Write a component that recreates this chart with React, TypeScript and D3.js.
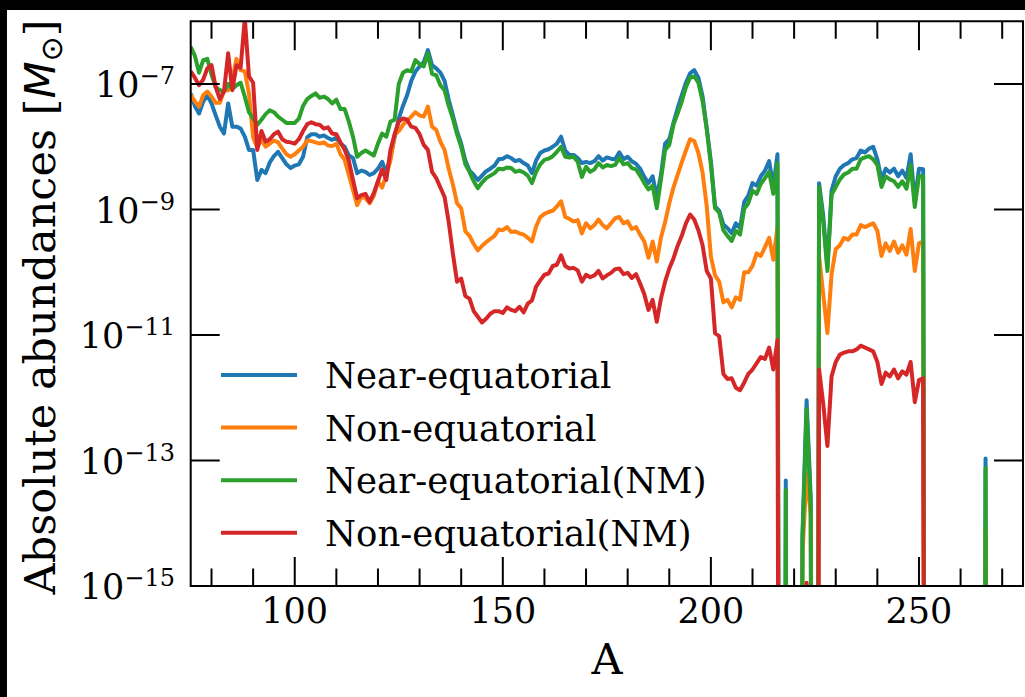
import React from 'react';
import * as d3 from 'd3';

// Mass number A, 75..275 (one point per integer A)
const massNumbers: number[] = d3.range(75, 276);

// log10 of absolute abundance [M_sun]; null = zero abundance (drops below axis)
const nearEqLog: (number | null)[] = [
  -7.15, -7.35, -7.47, -7.28, -7.18, -7.31, -7.50, -7.68, -7.79, -7.31,
  -7.68, -7.68, -7.71, -7.84, -8.05, -8.05, -8.53, -8.37, -8.42, -8.25,
  -8.15, -8.08, -8.18, -8.28, -8.34, -8.30, -8.28, -8.16, -7.85, -7.80,
  -7.80, -7.84, -7.82, -7.86, -7.89, -7.85, -7.95, -8.00, -8.14, -8.18,
  -8.42, -8.38, -8.40, -8.45, -8.42, -8.35, -8.24, -8.42, -8.16, -7.85,
  -7.55, -7.35, -7.18, -6.95, -6.80, -6.72, -6.65, -6.46, -6.70, -6.75,
  -6.82, -6.95, -7.25, -7.50, -7.75, -7.95, -8.22, -8.38, -8.45, -8.53,
  -8.46, -8.39, -8.35, -8.30, -8.20, -8.19, -8.15, -8.18, -8.23, -8.21,
  -8.26, -8.30, -8.42, -8.22, -8.10, -8.06, -8.04, -8.00, -7.95, -7.84,
  -8.06, -8.13, -8.13, -8.18, -8.26, -8.24, -8.26, -8.23, -8.15, -8.22,
  -8.17, -8.19, -8.20, -8.09, -8.20, -8.16, -8.23, -8.27, -8.35, -8.48,
  -8.58, -8.47, -8.81, -8.45, -7.95, -7.88, -7.62, -7.39, -7.18, -6.98,
  -6.83, -6.78, -6.90, -7.20, -7.70, -8.23, -8.95, -9.02, -9.24, -9.30,
  -9.38, -9.22, -9.30, -8.88, -8.78, -8.58, -8.62, -8.47, -8.38, -8.23,
  -8.64, -8.12, null, -13.32, null, null, null, -14.2, -12.04, -13.6,
  null, -8.58, -9.10, -9.92, -8.70, -8.47, -8.35, -8.29, -8.26, -8.20,
  -8.18, -8.06, -8.09, -8.03, -8.00, -8.20, -8.52, -8.35, -8.41, -8.35,
  -8.47, -8.38, -8.50, -8.12, -8.87, -8.35, -8.36, null, null, null,
  null, null, null, null, null, null, null, null, null, null,
  null, -12.97, null, null, null, null, null, null, null, null,
  null,
];

const nonEqLog: (number | null)[] = [
  -7.17, -7.28, -7.36, -7.18, -7.12, -7.20, -7.30, -7.30, -7.10, -7.10,
  -6.92, -6.60, -6.78, -6.80, -7.15, -7.85, -8.02, -7.88, -8.00, -7.95,
  -7.90, -7.93, -8.03, -8.12, -8.16, -8.12, -8.06, -8.00, -7.90, -7.91,
  -7.93, -7.95, -7.93, -7.98, -7.99, -7.95, -8.12, -8.21, -8.45, -8.69,
  -8.93, -8.80, -8.82, -8.90, -8.78, -8.55, -8.65, -8.45, -8.22, -7.81,
  -7.75, -7.65, -7.58, -7.52, -7.45, -7.50, -7.52, -7.36, -7.68, -7.73,
  -7.92, -8.05, -8.35, -8.60, -8.90, -8.98, -9.35, -9.42, -9.55, -9.65,
  -9.58, -9.52, -9.47, -9.42, -9.32, -9.33, -9.28, -9.36, -9.35, -9.38,
  -9.40, -9.45, -9.51, -9.27, -9.12, -9.07, -9.04, -9.02, -8.95, -8.87,
  -9.12, -9.15, -9.19, -9.17, -9.38, -9.22, -9.30, -9.25, -9.16, -9.25,
  -9.30, -9.22, -9.14, -9.12, -9.22, -9.19, -9.31, -9.28, -9.40, -9.51,
  -9.77, -9.51, -9.83, -9.45, -9.20, -8.90, -8.65, -8.45, -8.25, -8.06,
  -7.88, -7.91, -8.10, -8.41, -8.95, -9.75, -10.05, -10.15, -10.48, -10.44,
  -10.56, -10.40, -10.44, -10.00, -10.00, -9.90, -9.70, -9.74, -9.60, -9.45,
  -9.80, -9.28, null, null, null, null, null, -14.5, -13.2, -13.87,
  null, -9.74, -10.35, -10.97, -10.03, -9.63, -9.57, -9.45, -9.48, -9.40,
  -9.40, -9.25, -9.28, -9.25, -9.22, -9.34, -9.74, -9.54, -9.66, -9.51,
  -9.69, -9.57, -9.72, -9.31, -9.98, -9.54, -9.51, null, null, null,
  null, null, null, null, null, null, null, null, null, null,
  null, -14.1, null, null, null, null, null, null, null, null,
  null,
];

const nearEqNMLog: (number | null)[] = [
  -6.41, -6.55, -6.82, -6.62, -6.60, -6.85, -7.05, -7.10, -7.12, -7.00,
  -7.08, -7.02, -6.98, -7.20, -7.45, -7.55, -7.65, -7.57, -7.48, -7.42,
  -7.45, -7.52, -7.57, -7.62, -7.62, -7.62, -7.55, -7.35, -7.24, -7.19,
  -7.15, -7.22, -7.20, -7.24, -7.31, -7.25, -7.40, -7.40, -7.60, -7.84,
  -8.16, -8.10, -8.06, -8.10, -8.14, -7.95, -7.79, -7.84, -7.60, -7.57,
  -7.00, -6.82, -6.78, -6.80, -6.62, -6.68, -6.72, -6.51, -6.84, -6.86,
  -7.02, -7.10, -7.35, -7.55, -7.80, -8.00, -8.28, -8.40, -8.55, -8.66,
  -8.57, -8.50, -8.46, -8.42, -8.35, -8.36, -8.33, -8.34, -8.40, -8.38,
  -8.41, -8.46, -8.58, -8.40, -8.28, -8.21, -8.19, -8.15, -8.08, -8.00,
  -8.16, -8.17, -8.16, -8.24, -8.48, -8.32, -8.40, -8.36, -8.26, -8.33,
  -8.29, -8.31, -8.29, -8.18, -8.28, -8.26, -8.34, -8.36, -8.46, -8.58,
  -8.68, -8.62, -8.98, -8.52, -8.05, -7.97, -7.65, -7.47, -7.28, -7.05,
  -6.90, -6.88, -6.98, -7.27, -7.72, -8.29, -8.98, -9.05, -9.33, -9.42,
  -9.50, -9.34, -9.40, -8.99, -8.90, -8.70, -8.75, -8.59, -8.50, -8.40,
  -8.75, -8.26, null, -13.47, null, null, null, -14.3, -12.18, -13.75,
  null, -8.64, -9.20, -9.98, -8.76, -8.64, -8.52, -8.44, -8.41, -8.35,
  -8.35, -8.20, -8.17, -8.15, -8.20, -8.29, -8.64, -8.47, -8.52, -8.55,
  -8.64, -8.55, -8.67, -8.29, -8.96, -8.47, -8.47, null, null, null,
  null, null, null, null, null, null, null, null, null, null,
  null, -13.12, null, null, null, null, null, null, null, null,
  null,
];

const nonEqNMLog: (number | null)[] = [
  -6.80, -6.90, -7.02, -6.93, -6.75, -6.70, -7.05, -7.24, -7.12, -6.51,
  -7.10, -6.70, -6.74, -5.95, -6.88, -6.98, -8.05, -7.75, -7.92, -7.88,
  -7.80, -7.76, -7.88, -7.92, -7.93, -7.95, -7.88, -7.75, -7.64, -7.61,
  -7.64, -7.65, -7.71, -7.69, -7.79, -7.80, -7.93, -8.05, -8.22, -8.53,
  -8.82, -8.77, -8.75, -8.88, -8.74, -8.55, -8.36, -8.53, -8.05, -7.80,
  -7.60, -7.55, -7.57, -7.68, -7.70, -7.80, -7.97, -8.05, -8.40, -8.50,
  -8.65, -8.80, -9.20, -9.70, -10.15, -10.10, -10.38, -10.42, -10.62, -10.71,
  -10.80, -10.74, -10.66, -10.62, -10.62, -10.65, -10.56, -10.60, -10.62, -10.55,
  -10.64, -10.50, -10.45, -10.23, -10.13, -10.04, -10.02, -9.90, -9.88, -9.73,
  -9.90, -9.94, -9.93, -9.97, -10.15, -10.04, -10.08, -10.05, -9.98, -10.10,
  -10.05, -10.01, -9.95, -9.94, -10.03, -10.01, -10.09, -10.03, -10.18, -10.35,
  -10.60, -10.44, -10.79, -10.42, -10.15, -9.94, -9.78, -9.58, -9.42, -9.22,
  -9.08, -9.16, -9.33, -9.57, -9.98, -10.10, -10.97, -11.02, -11.62, -11.70,
  -11.69, -11.84, -11.88, -11.76, -11.62, -11.55, -11.45, -11.35, -11.38, -11.20,
  -11.55, -11.08, null, null, null, null, null, null, -14.95, null,
  null, -11.55, -12.10, -12.77, -11.66, -11.43, -11.31, -11.28, -11.26, -11.26,
  -11.23, -11.17, -11.20, -11.23, -11.26, -11.43, -11.78, -11.60, -11.66, -11.55,
  -11.69, -11.58, -11.63, -11.43, -12.07, -11.72, -11.69, null, null, null,
  null, null, null, null, null, null, null, null, null, null,
  null, null, null, null, null, null, null, null, null, null,
  null,
];

const seriesNames = ['Near-equatorial', 'Non-equatorial', 'Near-equatorial(NM)', 'Non-equatorial(NM)'];
const seriesColors = ['#1f77b4', '#ff7f0e', '#2ca02c', '#d62728'];
const seriesData = [nearEqLog, nonEqLog, nearEqNMLog, nonEqNMLog];

const xMajorTicks = [100, 150, 200, 250];
const xMinorTicks = [80, 90, 110, 120, 130, 140, 160, 170, 180, 190, 210, 220, 230, 240, 260, 270];
const yTickExponents = [-7, -9, -11, -13, -15];

const W = 1025;
const H = 697;
const PL = 190.7, PR = 1023, PT = 21.25, PB = 586;
const FONT = "'DejaVu Serif', serif";

export default function App() {
  const x = d3.scaleLinear().domain([75, 275]).range([PL, PR]);
  const y = d3.scaleLog().domain([1e-15, 1e-6]).range([PB, PT]);

  const line = d3
    .line<[number, number]>()
    .x((d) => x(d[0]))
    .y((d) => y(d[1] > 0 ? d[1] : 1e-40));

  const paths = seriesData.map((arr) => {
    const pts: [number, number][] = massNumbers.map((a, i) => {
      const v = arr[i];
      return [a, v === null || v === undefined ? 0 : Math.pow(10, v)];
    });
    return line(pts) || '';
  });

  const majorLen = 29;
  const minorLen = 17.5;
  const tickStroke = 2;

  return (
    <div style={{ position: 'absolute', left: 0, top: 0 }}>
      <svg width={W} height={H} style={{ display: 'block', background: '#fff' }}>
        <rect x={0} y={0} width={W} height={H} fill="#fff" />
        <defs>
          <clipPath id="plotclip">
            <rect x={PL} y={PT} width={PR - PL} height={PB - PT} />
          </clipPath>
        </defs>

        <g clipPath="url(#plotclip)">
          {paths.map((d, i) => (
            <path
              key={i}
              d={d}
              fill="none"
              stroke={seriesColors[i]}
              strokeWidth={4}
              strokeLinejoin="round"
              strokeLinecap="butt"
            />
          ))}
        </g>

        {/* legend */}
        {seriesNames.map((name, i) => {
          const ry = 375 + i * 52.6;
          return (
            <g key={name}>
              <line x1={221} x2={297} y1={ry} y2={ry} stroke={seriesColors[i]} strokeWidth={4} />
              <text x={325} y={ry + 13} fontFamily={FONT} fontSize={35.5} fill="#000">
                {name}
              </text>
            </g>
          );
        })}

        {/* ticks */}
        <g stroke="#000" strokeWidth={tickStroke}>
          {xMajorTicks.map((t) => (
            <g key={'xM' + t}>
              <line x1={x(t)} x2={x(t)} y1={PB} y2={PB - majorLen} />
              <line x1={x(t)} x2={x(t)} y1={PT} y2={PT + majorLen} />
            </g>
          ))}
          {xMinorTicks.map((t) => (
            <g key={'xm' + t}>
              <line x1={x(t)} x2={x(t)} y1={PB} y2={PB - minorLen} />
              <line x1={x(t)} x2={x(t)} y1={PT} y2={PT + minorLen} />
            </g>
          ))}
          {yTickExponents.map((e) => (
            <g key={'y' + e}>
              <line x1={PL} x2={PL + majorLen} y1={y(Math.pow(10, e))} y2={y(Math.pow(10, e))} />
              <line x1={PR} x2={PR - majorLen} y1={y(Math.pow(10, e))} y2={y(Math.pow(10, e))} />
            </g>
          ))}
        </g>

        {/* spines */}
        <rect x={PL} y={PT} width={PR - PL} height={PB - PT} fill="none" stroke="#000" strokeWidth={2} />

        {/* x tick labels */}
        {xMajorTicks.map((t) => (
          <text key={'xl' + t} x={x(t)} y={623} textAnchor="middle" fontFamily={FONT} fontSize={35} fill="#000">
            {t}
          </text>
        ))}

        {/* y tick labels */}
        {yTickExponents.map((e) => {
          const ty = y(Math.pow(10, e));
          return (
            <text key={'yl' + e} x={175} y={ty + 13.3} textAnchor="end" fontFamily={FONT} fontSize={35} fill="#000">
              10
              <tspan fontSize={24} dy={-13.3}>
                {'\u2212' + Math.abs(e)}
              </tspan>
            </text>
          );
        })}

        {/* axis labels */}
        <text x={607} y={674} textAnchor="middle" fontFamily={FONT} fontSize={43} fill="#000">
          A
        </text>
        <text
          transform="translate(55, 307) rotate(-90)"
          textAnchor="middle"
          fontFamily={FONT}
          fontSize={43}
          fill="#000"
        >
          Absolute abundances [
          <tspan fontFamily="'DejaVu Sans', sans-serif" fontStyle="oblique">M</tspan>
          <tspan fontFamily="'DejaVu Sans', sans-serif" fontSize={30} dy={7}>{'\u2299'}</tspan>
          <tspan dy={-7}>]</tspan>
        </text>

        {/* black border strips of the original image */}
        <rect x={0} y={0} width={W} height={10} fill="#000" />
        <rect x={0} y={0} width={7} height={H} fill="#000" />
      </svg>
    </div>
  );
}
